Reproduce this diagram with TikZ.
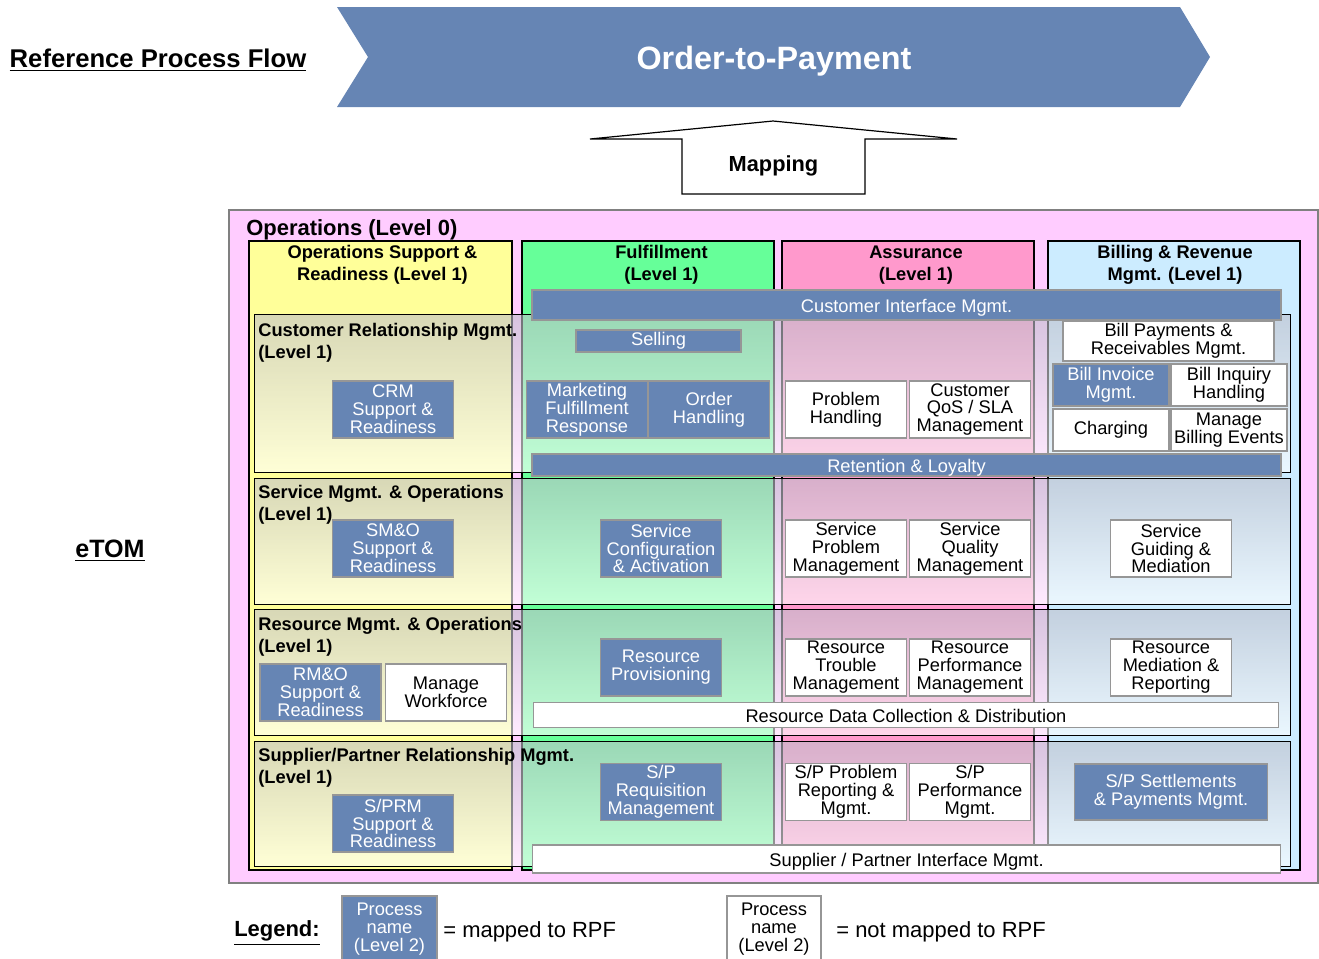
\documentclass[tikz,border=0pt]{standalone}
\usepackage{fontspec}
\setmainfont{Liberation Sans}

\newlength\px
\setlength\px{0.02cm}

\definecolor{mapblue}{RGB}{102,133,180}
\definecolor{opspink}{RGB}{255,204,255}
\definecolor{osryellow}{RGB}{255,255,153}
\definecolor{fulgreen}{RGB}{102,255,153}
\definecolor{asrpink}{RGB}{255,153,204}
\definecolor{brmblue}{RGB}{204,236,255}
\definecolor{boxgray}{RGB}{150,150,150}
\definecolor{rowshade}{RGB}{190,190,202}

\tikzset{
  mapped/.style={draw=boxgray, line width=1.5\px, fill=mapblue, text=white,
    align=center, inner sep=0, font=\fontsize{10.4}{10.2}\selectfont},
  unmapped/.style={mapped, fill=white, text=black},
  oneline/.style={text height=1em, text depth=0.2em},
  lvtwo/.style={minimum width=121\px, minimum height=57\px},
  column/.style={draw, line width=1.2\px, minimum width=252\px,
    minimum height=629\px, inner sep=0},
  colhead/.style={align=center, inner sep=0,
    font=\bfseries\fontsize{10.4}{12.5}\selectfont},
  rowband/.style={draw, line width=1\px, top color=rowshade, bottom color=white,
    fill opacity=0.6, minimum width=1036\px, inner sep=0},
  rowhead/.style={anchor=west, align=left, inner sep=0,
    font=\bfseries\fontsize{10.4}{12.5}\selectfont}
}

\begin{document}
\begin{tikzpicture}[x=0.02cm, y=-0.02cm]
    \useasboundingbox (0,0) rectangle (1319,958);

    % Reference Process Flow
    \node[font=\bfseries\fontsize{14.6}{17}\selectfont] (rpftitle) at (158,60) {\underline{Reference Process Flow}};

    % Order-to-Payment chevron
    \fill[mapblue] (337,7) -- (1180,7) -- (1210,57) -- (1180,107) -- (337,107) -- (368,57) -- cycle;
    \node[text=white, font=\bfseries\fontsize{18.4}{22}\selectfont] (rpf) at (774,61) {Order-to-Payment};

    % Mapping arrow
    \draw[line width=1.2\px, fill=white] (682,194) -- (682,139) -- (590,139) -- (773,121)
      -- (957,139) -- (865,139) -- (865,194) -- cycle;
    \node[font=\bfseries\fontsize{12.4}{15}\selectfont] (mapping) at (773.5,165.5) {Mapping};

    % eTOM
    \node[font=\bfseries\fontsize{14.3}{17}\selectfont] (etom) at (110,551) {\underline{eTOM}};

    % Operations (Level 0)
    \node[draw=gray, line width=1.5\px, fill=opspink,
      minimum width=1089\px, minimum height=673\px, inner sep=0] (ops) at (773.5,546.5) {};
    \node[anchor=west, inner sep=0, font=\bfseries\fontsize{12.5}{15}\selectfont] (opshead) at (246,230) {Operations (Level 0)};

    % Level 1 columns
    \node[column, fill=osryellow, minimum width=263\px] (osr) at (380.5,555.5) {};
    \node[column, fill=fulgreen] (ful) at (648,555.5) {};
    \node[column, fill=asrpink] (asr) at (908,555.5) {};
    \node[column, fill=brmblue] (brm) at (1174,555.5) {};

    \node[colhead] (osrhead) at (382.5,264.8) {Operations Support \&\\Readiness (Level 1)};
    \node[colhead] (fulhead) at (661.5,264.8) {Fulfillment\\(Level 1)};
    \node[colhead] (asrhead) at (916,264.8) {Assurance\\(Level 1)};
    \node[colhead] (brmhead) at (1175,264.8) {Billing \& Revenue\\Mgmt. (Level 1)};

    % Level 1 rows
    \node[rowband, minimum height=158\px] (crm) at (772,393) {};
    \node[rowband, minimum height=126\px] (smo) at (772,541) {};
    \node[rowband, minimum height=126\px] (rmo) at (772,672) {};
    \node[rowband, minimum height=125\px] (sprm) at (772,803.5) {};

    \node[rowhead] (crmhead) at (258,342.4) {Customer Relationship Mgmt.\\(Level 1)};
    \node[rowhead] (smohead) at (258,505) {Service Mgmt. \& Operations\\(Level 1)};
    \node[rowhead] (rmohead) at (258,636.4) {Resource Mgmt. \& Operations\\(Level 1)};
    \node[rowhead] (sprmhead) at (258,767.4) {Supplier/Partner Relationship Mgmt.\\(Level 1)};

    % Horizontal processes
    \node[mapped, oneline, minimum width=749\px, minimum height=30\px] (cim) at (906.5,305) {Customer Interface Mgmt.};
    \node[mapped, oneline, minimum width=749\px, minimum height=22\px] (retention) at (906.5,465) {Retention \& Loyalty};
    \node[unmapped, oneline, minimum width=745\px, minimum height=25\px] (rdcd) at (906,715) {Resource Data Collection \& Distribution};
    \node[unmapped, oneline, minimum width=748\px, minimum height=28\px] (spim) at (906.5,859) {Supplier / Partner Interface Mgmt.};

    % CRM row
    \node[mapped, lvtwo] (crmsr) at (393,409.5) {CRM\\Support \&\\Readiness};
    \node[mapped, minimum width=165\px, minimum height=22\px] (selling) at (658.5,341) {Selling};
    \node[mapped, lvtwo] (mfr) at (587,409.5) {Marketing\\Fulfillment\\Response};
    \node[mapped, lvtwo] (ordh) at (709,409.5) {Order\\Handling};
    \node[unmapped, lvtwo] (probh) at (846,409.5) {Problem\\Handling};
    \node[unmapped, lvtwo] (qos) at (970,409.5) {Customer\\QoS / SLA\\Management};
    \node[unmapped, minimum width=211\px, minimum height=40\px] (billpay) at (1168.5,341) {Bill Payments \&\\Receivables Mgmt.};
    \node[mapped, minimum width=116\px, minimum height=42\px] (billinv) at (1111,385) {Bill Invoice\\Mgmt.};
    \node[unmapped, minimum width=116\px, minimum height=42\px] (billinq) at (1229,385) {Bill Inquiry\\Handling};
    \node[unmapped, minimum width=116\px, minimum height=42\px] (charging) at (1111,430) {Charging};
    \node[unmapped, minimum width=116\px, minimum height=42\px] (billev) at (1229,430) {Manage\\Billing Events};

    % SM&O row
    \node[mapped, lvtwo] (smosr) at (393,548.5) {SM\&O\\Support \&\\Readiness};
    \node[mapped, lvtwo] (sca) at (661,548.5) {Service\\Configuration\\\& Activation};
    \node[unmapped, lvtwo] (spm) at (846,548.5) {Service\\Problem\\Management};
    \node[unmapped, lvtwo] (sqm) at (970,548.5) {Service\\Quality\\Management};
    \node[unmapped, lvtwo] (sgm) at (1171,548.5) {Service\\Guiding \&\\Mediation};

    % RM&O row
    \node[mapped, lvtwo] (rmosr) at (320.5,692.5) {RM\&O\\Support \&\\Readiness};
    \node[unmapped, lvtwo] (mwf) at (446,692.5) {Manage\\Workforce};
    \node[mapped, lvtwo] (rprov) at (661,667.5) {Resource\\Provisioning};
    \node[unmapped, lvtwo] (rtm) at (846,667.5) {Resource\\Trouble\\Management};
    \node[unmapped, lvtwo] (rpm) at (970,667.5) {Resource\\Performance\\Management};
    \node[unmapped, lvtwo] (rmr) at (1171,667.5) {Resource\\Mediation \&\\Reporting};

    % S/PRM row
    \node[mapped, lvtwo] (sprmsr) at (393,823.5) {S/PRM\\Support \&\\Readiness};
    \node[mapped, lvtwo] (spreq) at (661,792) {S/P\\Requisition\\Management};
    \node[unmapped, lvtwo] (spprob) at (846,792) {S/P Problem\\Reporting \&\\Mgmt.};
    \node[unmapped, lvtwo] (spperf) at (970,792) {S/P\\Performance\\Mgmt.};
    \node[mapped, minimum width=193\px, minimum height=56\px] (spsett) at (1171,792) {S/P Settlements\\\& Payments Mgmt.};

    % Legend
    \node[font=\bfseries\fontsize{12.5}{15}\selectfont] (legend) at (277,933) {\underline{Legend:}};
    \node[mapped, minimum width=95\px, minimum height=66\px] (legmap) at (389.5,929) {Process\\name\\(Level 2)};
    \node[anchor=west, inner sep=0, font=\fontsize{12.5}{15}\selectfont] (legmaptxt) at (443,932) {= mapped to RPF};
    \node[unmapped, minimum width=94\px, minimum height=66\px] (legun) at (774,929) {Process\\name\\(Level 2)};
    \node[anchor=west, inner sep=0, font=\fontsize{12.5}{15}\selectfont] (leguntxt) at (836,932) {= not mapped to RPF};
\end{tikzpicture}
\end{document}
